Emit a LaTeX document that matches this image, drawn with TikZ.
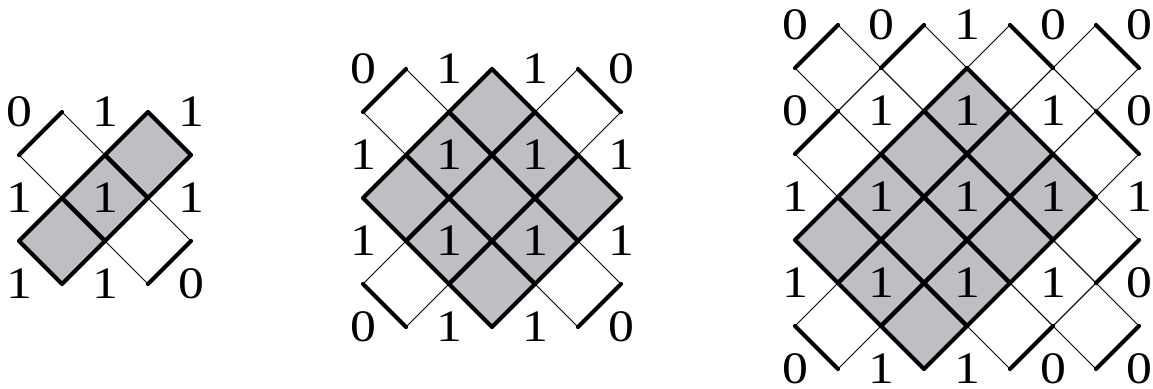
\documentclass[tikz,border=0pt]{standalone}
\usepackage{fontspec}
\setmainfont{Liberation Serif}[FakeStretch=1.15]
\definecolor{cellgray}{RGB}{190,191,196}
\tikzset{
  thinedge/.style={line width=0.9pt, black},
  thickedge/.style={line width=4.2pt, black, line cap=round, line join=round},
  lab/.style={font=\fontsize{45}{45}\selectfont, inner sep=0pt, anchor=center},
}
\newcommand\cellp[2]{({#1},{#2-1}) -- ({#1+1},{#2}) -- ({#1},{#2+1}) -- ({#1-1},{#2}) -- cycle}
\begin{document}
\begin{tikzpicture}
\useasboundingbox (0pt,0pt) rectangle (1153pt,-388pt);
% ---------- figure 1 ----------
\begin{scope}[shift={(19pt,-112pt)}, x=43pt, y=-43pt]
  \foreach \a/\b in {3/1,2/2,1/3} \fill[cellgray] \cellp{\a}{\b};
  \foreach \a/\b in {1/1,3/3} \draw[thinedge] \cellp{\a}{\b};
  \foreach \a/\b in {3/1,2/2,1/3} \draw[thickedge] \cellp{\a}{\b};
  \foreach \x/\y/\u/\v in {0/1/1/0, 3/4/4/3} \draw[thickedge] (\x,\y) -- (\u,\v);
  \foreach \a/\b/\t in {0/0/0, 2/0/1, 4/0/1, 0/2/1, 2/2/1, 4/2/1, 0/4/1, 2/4/1, 4/4/0}
    \node[lab] (fa-\a-\b) at (\a,\b) {\t};
\end{scope}
% ---------- figure 2 ----------
\begin{scope}[shift={(363pt,-69pt)}, x=43pt, y=-43pt]
  \foreach \a/\b in {3/1,2/2,1/3,4/2,3/3,2/4,5/3,4/4,3/5} \fill[cellgray] \cellp{\a}{\b};
  \foreach \a/\b in {1/1,5/1,1/5,5/5} \draw[thinedge] \cellp{\a}{\b};
  \foreach \a/\b in {3/1,2/2,1/3,4/2,3/3,2/4,5/3,4/4,3/5} \draw[thickedge] \cellp{\a}{\b};
  \foreach \x/\y/\u/\v in {0/1/1/0, 5/0/6/1, 0/5/1/6, 5/6/6/5} \draw[thickedge] (\x,\y) -- (\u,\v);
  \foreach \a/\b/\t in {0/0/0, 2/0/1, 4/0/1, 6/0/0,
                        0/2/1, 2/2/1, 4/2/1, 6/2/1,
                        0/4/1, 2/4/1, 4/4/1, 6/4/1,
                        0/6/0, 2/6/1, 4/6/1, 6/6/0}
    \node[lab] (fb-\a-\b) at (\a,\b) {\t};
\end{scope}
% ---------- figure 3 ----------
\begin{scope}[shift={(795pt,-25pt)}, x=43pt, y=-43pt]
  \foreach \a/\b in {4/2,3/3,2/4,1/5,5/3,4/4,3/5,2/6,6/4,5/5,4/6,3/7} \fill[cellgray] \cellp{\a}{\b};
  \foreach \a/\b in {1/1,3/1,5/1,7/1,2/2,6/2,1/3,7/3,7/5,6/6,1/7,5/7,7/7} \draw[thinedge] \cellp{\a}{\b};
  \foreach \a/\b in {4/2,3/3,2/4,1/5,5/3,4/4,3/5,2/6,6/4,5/5,4/6,3/7} \draw[thickedge] \cellp{\a}{\b};
  \foreach \x/\y/\u/\v in {0/1/1/0, 2/1/3/0, 0/3/1/2, 5/0/6/1, 7/0/8/1, 7/2/8/3,
                           0/7/1/8, 7/6/8/5, 5/8/6/7, 7/8/8/7}
    \draw[thickedge] (\x,\y) -- (\u,\v);
  \foreach \a/\b/\t in {0/0/0, 2/0/0, 4/0/1, 6/0/0, 8/0/0,
                        0/2/0, 2/2/1, 4/2/1, 6/2/1, 8/2/0,
                        0/4/1, 2/4/1, 4/4/1, 6/4/1, 8/4/1,
                        0/6/1, 2/6/1, 4/6/1, 6/6/1, 8/6/0,
                        0/8/0, 2/8/1, 4/8/1, 6/8/0, 8/8/0}
    \node[lab] (fc-\a-\b) at (\a,\b) {\t};
\end{scope}
\end{tikzpicture}
\end{document}
